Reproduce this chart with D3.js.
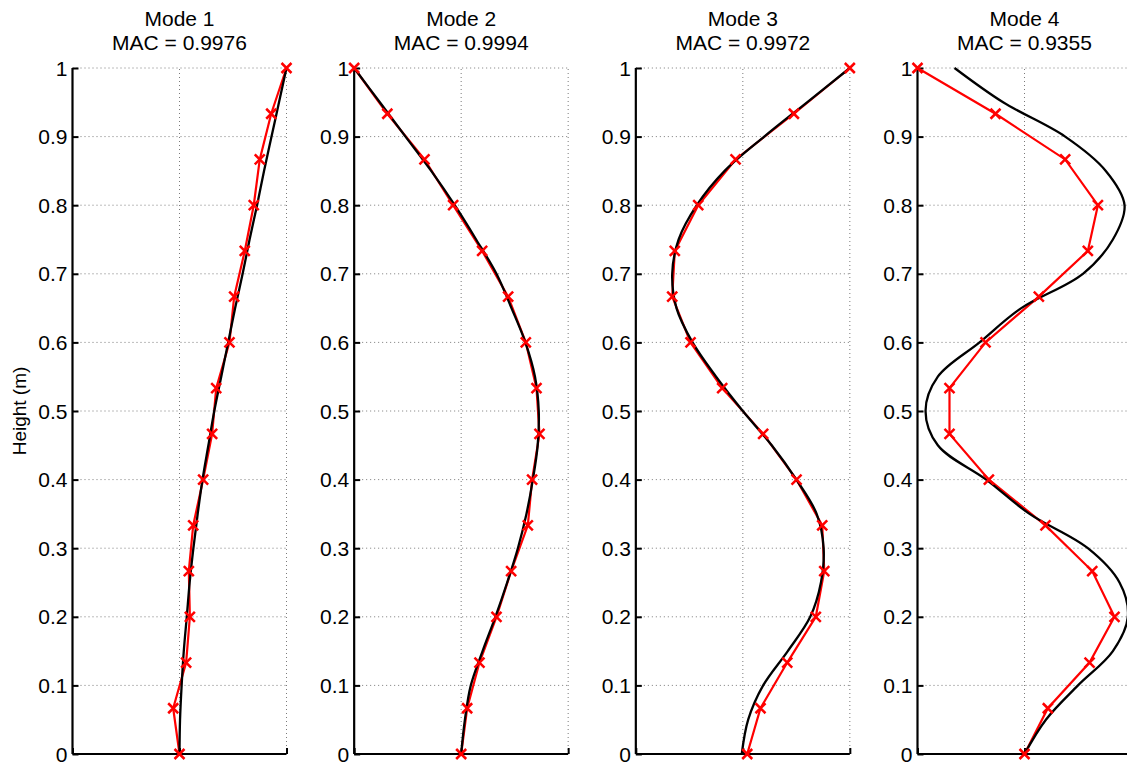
<!DOCTYPE html>
<html>
<head>
<meta charset="utf-8">
<script src="https://cdn.jsdelivr.net/npm/d3@7"></script>
<style>
  body { margin: 0; background: #fff; }
  svg { display: block; font-family: "Liberation Sans", Arial, Helvetica, sans-serif; }
  .grid line { stroke: #7a7a7a; stroke-width: 1; stroke-dasharray: 1 3; }
</style>
</head>
<body>
<svg width="1127" height="765"></svg>
<script>
// heights of the measured (red) points and of the model (black) curve samples
const measHeights = [0, 0.0667, 0.1333, 0.2, 0.2667, 0.3333, 0.4, 0.4667, 0.5333, 0.6, 0.6667, 0.7333, 0.8, 0.8667, 0.9333, 1];
const modelHeights = [0, 0.05, 0.1, 0.15, 0.2, 0.25, 0.3, 0.35, 0.4, 0.45, 0.5, 0.55, 0.6, 0.65, 0.7, 0.75, 0.8, 0.85, 0.9, 0.95, 1];

const modeTitles = ["Mode 1", "Mode 2", "Mode 3", "Mode 4"];
const macValues = ["0.9976", "0.9994", "0.9972", "0.9355"];

// measured mode shapes (red)
const mode1Meas = [0, -0.059, 0.062, 0.097, 0.087, 0.128, 0.221, 0.305, 0.343, 0.467, 0.511, 0.61, 0.694, 0.75, 0.857, 1.0];
const mode2Meas = [0, 0.056, 0.171, 0.33, 0.467, 0.623, 0.663, 0.732, 0.704, 0.604, 0.439, 0.196, -0.075, -0.343, -0.69, -1.0];
const mode3Meas = [0.041, 0.165, 0.415, 0.682, 0.761, 0.742, 0.502, 0.19, -0.193, -0.489, -0.66, -0.636, -0.417, -0.068, 0.477, 1.0];
const mode4Meas = [0, 0.218, 0.608, 0.841, 0.633, 0.196, -0.333, -0.701, -0.701, -0.364, 0.134, 0.592, 0.686, 0.38, -0.271, -1.0];

// model mode shapes (black)
const mode1Model = [0, 0.005, 0.02, 0.04, 0.068, 0.095, 0.13, 0.17, 0.215, 0.27, 0.325, 0.39, 0.455, 0.52, 0.59, 0.655, 0.725, 0.79, 0.86, 0.93, 1.0];
const mode2Model = [0, 0.035, 0.09, 0.2, 0.32, 0.43, 0.53, 0.61, 0.67, 0.715, 0.725, 0.69, 0.6, 0.47, 0.33, 0.14, -0.06, -0.28, -0.52, -0.76, -1.0];
const mode3Model = [-0.01, 0.05, 0.19, 0.42, 0.63, 0.73, 0.755, 0.69, 0.5, 0.27, 0.0, -0.25, -0.47, -0.62, -0.66, -0.6, -0.43, -0.17, 0.2, 0.6, 1.0];
const mode4Model = [0, 0.2, 0.5, 0.826, 0.966, 0.888, 0.592, 0.047, -0.358, -0.81, -0.925, -0.81, -0.42, -0.03, 0.546, 0.826, 0.935, 0.76, 0.38, -0.2, -0.654];

const yTicks = [0, 0.1, 0.2, 0.3, 0.4, 0.5, 0.6, 0.7, 0.8, 0.9, 1];
const xTicks = [-1, 0, 1];

const measured = [mode1Meas, mode2Meas, mode3Meas, mode4Meas];
const model = [mode1Model, mode2Model, mode3Model, mode4Model];

const svg = d3.select("svg");

// panel positions
const panelLeft = d3.scaleLinear().domain([0, 3]).range([72.5, 917.5]);
const panelWidth = 214;

const y = d3.scaleLinear().domain([0, 1]).range([754, 68]);

modeTitles.forEach((title, i) => {
  const left = panelLeft(i);
  const x = d3.scaleLinear().domain([-1, 1]).range([left, left + panelWidth]);
  const g = svg.append("g");

  // dotted grid
  const grid = g.append("g").attr("class", "grid");
  grid.selectAll(".hg")
    .data(yTicks.slice(1))
    .enter().append("line")
      .attr("x1", x(-1)).attr("x2", x(1))
      .attr("y1", d => y(d)).attr("y2", d => y(d));
  grid.selectAll(".vg")
    .data([0, 1])
    .enter().append("line")
      .attr("x1", d => x(d)).attr("x2", d => x(d))
      .attr("y1", y(0)).attr("y2", y(1));

  // y axis, ticks pointing inwards
  const yAxis = g.append("g")
    .attr("transform", `translate(${left},0)`)
    .call(d3.axisRight(y).tickValues(yTicks).tickSize(6).tickFormat(""));
  yAxis.select(".domain").attr("d", `M0,${y(0)}V${y(1)}`).attr("stroke-width", 2.2);
  yAxis.selectAll(".tick line").attr("stroke-width", 2);

  g.selectAll(".ylab")
    .data(yTicks)
    .enter().append("text")
      .attr("x", left - 5)
      .attr("y", d => y(d))
      .attr("dy", "0.36em")
      .attr("text-anchor", "end")
      .attr("font-size", 21)
      .text(d => d3.format("~g")(d));

  // x axis, no labels
  const xAxis = g.append("g")
    .attr("transform", `translate(0,${y(0)})`)
    .call(d3.axisTop(x).tickValues(xTicks).tickSize(6).tickFormat(""));
  xAxis.select(".domain").attr("d", `M${x(-1)},0H${x(1)}`).attr("stroke-width", 2.2);
  xAxis.selectAll(".tick line").attr("stroke-width", 2);

  // measured shape
  const measPts = measHeights.map((h, k) => [measured[i][k], h]);
  g.append("path")
    .datum(measPts)
    .attr("fill", "none")
    .attr("stroke", "#ff0000")
    .attr("stroke-width", 2.2)
    .attr("d", d3.line().x(d => x(d[0])).y(d => y(d[1])));

  // model shape
  const modelPts = modelHeights.map((h, k) => [model[i][k], h]);
  g.append("path")
    .datum(modelPts)
    .attr("fill", "none")
    .attr("stroke", "#000")
    .attr("stroke-width", 2.3)
    .attr("d", d3.line().curve(d3.curveCatmullRom.alpha(0.5)).x(d => x(d[0])).y(d => y(d[1])));

  // x markers
  const m = 5;
  g.selectAll(".mk")
    .data(measPts)
    .enter().append("path")
      .attr("fill", "none")
      .attr("stroke", "#ff0000")
      .attr("stroke-width", 2.5)
      .attr("d", d => {
        const cx = x(d[0]), cy = y(d[1]);
        return `M${cx - m},${cy - m}L${cx + m},${cy + m}M${cx - m},${cy + m}L${cx + m},${cy - m}`;
      });

  // titles
  const cx = (x(-1) + x(1)) / 2;
  g.append("text")
    .attr("x", cx).attr("y", 26)
    .attr("text-anchor", "middle")
    .attr("font-size", 21)
    .text(title);
  g.append("text")
    .attr("x", cx).attr("y", 50)
    .attr("text-anchor", "middle")
    .attr("font-size", 21)
    .text("MAC = " + macValues[i]);
});

// y label
svg.append("text")
  .attr("transform", `translate(26,${y(0.5)}) rotate(-90)`)
  .attr("text-anchor", "middle")
  .attr("font-size", 19)
  .text("Height (m)");
</script>
</body>
</html>
